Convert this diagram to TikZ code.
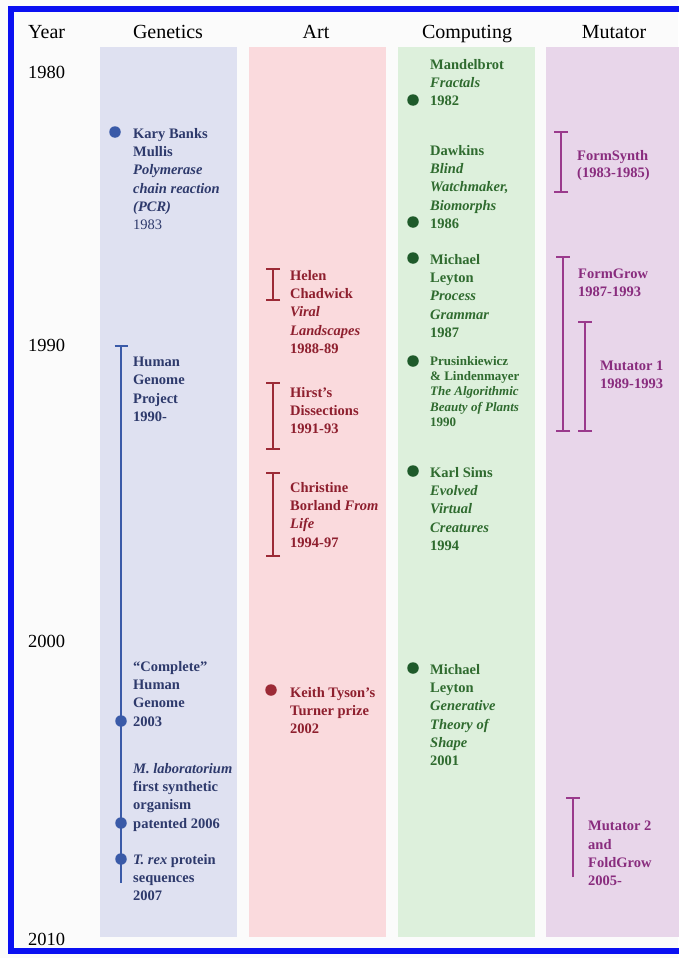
\documentclass[tikz,border=0pt]{standalone}
\usepackage{fontspec}
\setmainfont{Liberation Serif}
\usetikzlibrary{arrows.meta}
\definecolor{paper}{HTML}{FBFBFB}
\definecolor{frameblue}{HTML}{0A10F2}
\definecolor{genback}{HTML}{DFE1F1}
\definecolor{artback}{HTML}{FADADD}
\definecolor{compback}{HTML}{DDF0DC}
\definecolor{mutback}{HTML}{E8D6EA}
\definecolor{gentext}{HTML}{2E3A6C}
\definecolor{genline}{HTML}{3A5AA8}
\definecolor{arttext}{HTML}{8E1F2E}
\definecolor{artline}{HTML}{9C2A36}
\definecolor{comptext}{HTML}{2F6B2F}
\definecolor{compdot}{HTML}{1E5A2A}
\definecolor{muttext}{HTML}{892C7E}
\definecolor{mutline}{HTML}{9A3A8C}
\tikzset{
	entry/.style={anchor=north west,align=left,inner sep=0pt,font=\fontsize{14.5}{18.3}\selectfont\bfseries},
	dot/.style={circle,fill=#1,inner sep=0pt,minimum size=11.5pt},
	span/.style={draw=#1,line width=1.8pt,{Bar[width=14pt]}-{Bar[width=14pt]}},
	head/.style={anchor=base,inner sep=0pt,font=\fontsize{20}{20}\selectfont},
	yr/.style={anchor=base west,inner sep=0pt,font=\fontsize{18.5}{18.5}\selectfont}
}
\begin{document}
\begin{tikzpicture}[x=1pt,y=-1pt]
	\useasboundingbox (0,0) rectangle (678,958);
	\fill[paper] (0,0) rectangle (678,958);
	% columns
	\fill[genback] (100,47) rectangle (237,937);
	\fill[artback] (249,47) rectangle (386,937);
	\fill[compback] (398,47) rectangle (535,937);
	\fill[mutback] (546,47) rectangle (700,937);
	\draw[frameblue,line width=6pt] (11,9) rectangle (720,951);
	% headings and years
	\node[head,anchor=base west] (year) at (28,39) {Year};
	\node[head] (genetics) at (168,39) {Genetics};
	\node[head] (art) at (316,39) {Art};
	\node[head] (computing) at (467,39) {Computing};
	\node[head] (mutator) at (614,39) {Mutator};
	\node[yr] (y1980) at (28,78) {1980};
	\node[yr] (y1990) at (28,351) {1990};
	\node[yr] (y2000) at (28,647) {2000};
	\node[yr] (y2010) at (28,945) {2010};
	% genetics
	\node[dot=genline] (pcrdot) at (115,132) {};
	\node[entry,text=gentext] (pcr) at (133,128) {Kary Banks\\Mullis\\\textit{Polymerase}\\\textit{chain reaction}\\\textit{(PCR)}\\{\mdseries 1983}};
	\coordinate (hgptop) at (121,345);
	\coordinate (hgpend) at (121,883);
	\draw[genline,line width=1.6pt,{Bar[width=13pt]}-] (hgptop) -- (hgpend);
	\node[entry,text=gentext] (hgp) at (133,357) {Human\\Genome\\Project\\1990-};
	\node[dot=genline] (completedot) at (121,721) {};
	\node[dot=genline] (mlabdot) at (121,823) {};
	\node[dot=genline] (trexdot) at (121,859) {};
	\node[entry,text=gentext] (complete) at (133,661) {``Complete''\\Human\\Genome\\2003};
	\node[entry,text=gentext] (mlab) at (133,763) {\textit{M. laboratorium}\\first synthetic\\organism\\patented 2006};
	\node[entry,text=gentext] (trex) at (133,854) {\textit{T. rex} protein\\sequences\\2007};
	% art
	\coordinate (chadtop) at (273,268);
	\coordinate (chadbot) at (273,301);
	\draw[span=artline] (chadtop) -- (chadbot);
	\node[entry,text=arttext] (chadwick) at (290,270) {Helen\\Chadwick\\\textit{Viral}\\\textit{Landscapes}\\1988-89};
	\coordinate (hirsttop) at (273,382);
	\coordinate (hirstbot) at (273,450);
	\draw[span=artline] (hirsttop) -- (hirstbot);
	\node[entry,text=arttext] (hirst) at (290,387) {Hirst's\\Dissections\\1991-93};
	\coordinate (borltop) at (273,472);
	\coordinate (borlbot) at (273,557);
	\draw[span=artline] (borltop) -- (borlbot);
	\node[entry,text=arttext] (borland) at (290,482) {Christine\\Borland \textit{From}\\\textit{Life}\\1994-97};
	\node[dot=artline] (tysondot) at (271,690) {};
	\node[entry,text=arttext] (tyson) at (290,687) {Keith Tyson's\\Turner prize\\2002};
	% computing
	\node[dot=compdot] (mandeldot) at (413,100) {};
	\node[entry,text=comptext] (mandel) at (430,59) {Mandelbrot\\\textit{Fractals}\\1982};
	\node[dot=compdot] (dawkdot) at (413,222) {};
	\node[entry,text=comptext] (dawkins) at (430,145) {Dawkins\\\textit{Blind}\\\textit{Watchmaker,}\\\textit{Biomorphs}\\1986};
	\node[dot=compdot] (leydot) at (413,258) {};
	\node[entry,text=comptext] (leyton) at (430,254) {Michael\\Leyton\\\textit{Process}\\\textit{Grammar}\\1987};
	\node[dot=compdot] (prusdot) at (413,361) {};
	\node[entry,text=comptext,font=\fontsize{13}{15.3}\selectfont\bfseries] (prus) at (430,356) {Prusinkiewicz\\\& Lindenmayer\\\textit{The Algorithmic}\\\textit{Beauty of Plants}\\1990};
	\node[dot=compdot] (simsdot) at (413,471) {};
	\node[entry,text=comptext] (sims) at (430,467) {Karl Sims\\\textit{Evolved}\\\textit{Virtual}\\\textit{Creatures}\\1994};
	\node[dot=compdot] (gtsdot) at (413,668) {};
	\node[entry,text=comptext] (gts) at (430,664) {Michael\\Leyton\\\textit{Generative}\\\textit{Theory of}\\\textit{Shape}\\2001};
	% mutator
	\coordinate (fstop) at (561,131);
	\coordinate (fsbot) at (561,193);
	\draw[span=mutline] (fstop) -- (fsbot);
	\node[entry,text=muttext,font=\fontsize{14.5}{17.5}\selectfont\bfseries] (formsynth) at (577,150) {FormSynth\\(1983-1985)};
	\coordinate (fgtop) at (563,256);
	\coordinate (fgbot) at (563,432);
	\draw[span=mutline] (fgtop) -- (fgbot);
	\node[entry,text=muttext,font=\fontsize{14.5}{17.5}\selectfont\bfseries] (formgrow) at (578,269) {FormGrow\\1987-1993};
	\coordinate (mutonetop) at (585,321);
	\coordinate (mutonebot) at (585,432);
	\draw[span=mutline] (mutonetop) -- (mutonebot);
	\node[entry,text=muttext,font=\fontsize{14.5}{17.5}\selectfont\bfseries] (mutone) at (600,361) {Mutator 1\\1989-1993};
	\coordinate (muttwotop) at (573,797);
	\coordinate (muttwoend) at (573,877);
	\draw[mutline,line width=1.8pt,{Bar[width=14pt]}-] (muttwotop) -- (muttwoend);
	\node[entry,text=muttext] (muttwo) at (588,821) {Mutator 2\\and\\FoldGrow\\2005-};
\end{tikzpicture}
\end{document}
